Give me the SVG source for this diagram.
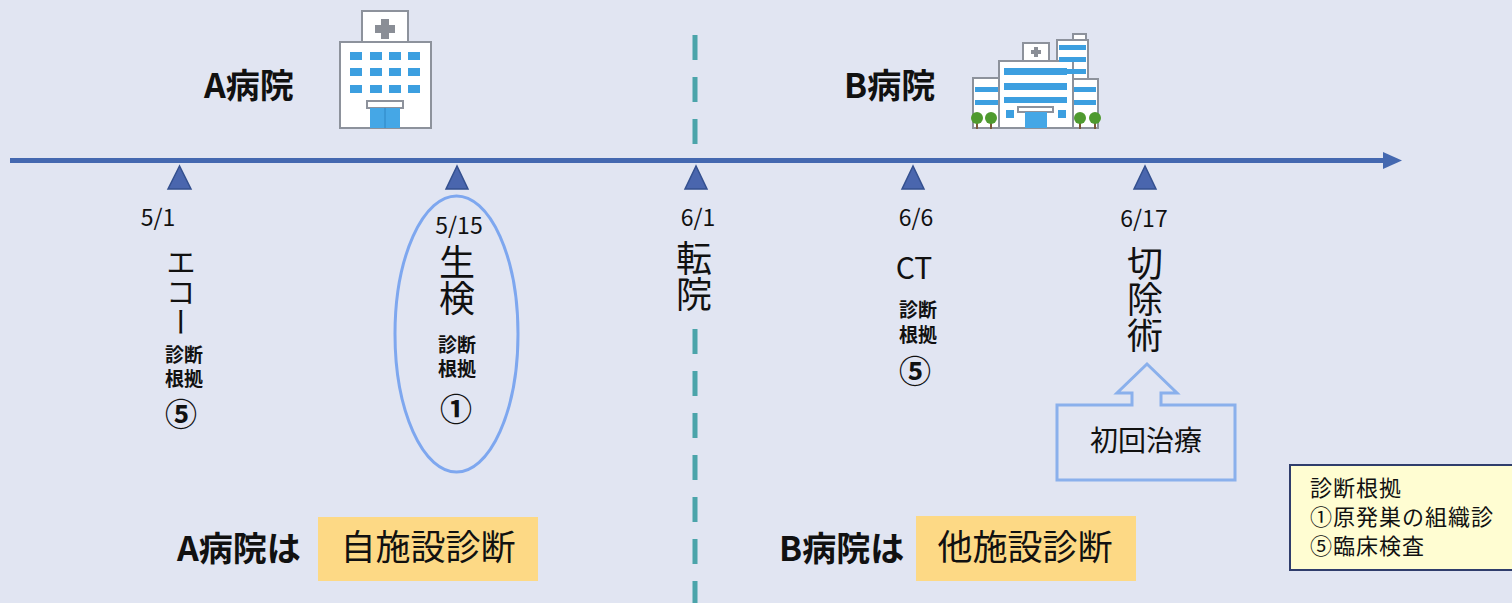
<svg xmlns="http://www.w3.org/2000/svg" width="1512" height="603" viewBox="0 0 1512 603">
  <style>
    text { font-family: "Noto Sans CJK JP", "Noto Sans", sans-serif; fill: #111; }
    .hosp { font-size: 34px; font-weight: bold; }
    .date { font-size: 23px; text-anchor: middle; }
    .vert { font-size: 36px; writing-mode: vertical-rl; }
    .basis { font-size: 19px; font-weight: bold; text-anchor: middle; }
    .num { font-size: 32px; font-weight: bold; text-anchor: middle; }
    .tick { fill: #4a66ae; stroke: #34508f; stroke-width: 1.5; }
    .bld { fill: #ffffff; stroke: #8d929c; stroke-width: 2; }
    .win { fill: #3c9fe0; }
    .tree { fill: #4f9a2f; }
    .trunk { fill: #7a5a3a; }
    .tag { fill: #fdd985; }
    .legend-text { font-size: 22px; letter-spacing: 1px; }
  </style>

  <!-- background -->
  <rect x="0" y="0" width="1512" height="603" fill="#e1e5f2"/>

  <!-- hospital change divider -->
  <g id="divider" stroke="#4ba4aa" stroke-width="5" stroke-dasharray="25 17">
    <line x1="695" y1="35" x2="695" y2="150"/>
    <line x1="695" y1="329" x2="695" y2="603"/>
  </g>

  <!-- timeline and tick markers -->
  <g id="connectors">
    <line x1="10" y1="160.5" x2="1386" y2="160.5" stroke="#4468b0" stroke-width="5"/>
    <polygon points="1383,152 1402,160.5 1383,169" fill="#4468b0"/>
    <polygon class="tick" points="179.5,166 168,189 191,189"/>
    <polygon class="tick" points="457,166 446,189 468,189"/>
    <polygon class="tick" points="696,166 685,189 707,189"/>
    <polygon class="tick" points="913,166 902,189 924,189"/>
    <polygon class="tick" points="1145,166 1134,189 1156,189"/>
  </g>

  <!-- hospital A -->
  <g id="hospital-a">
    <text class="hosp" x="204" y="98">A病院</text>
    <rect class="bld" x="362" y="11" width="46" height="31"/>
    <path d="M381,19 h8 v6 h6 v8 h-6 v6 h-8 v-6 h-6 v-8 h6 z" fill="#8a8e96"/>
    <rect class="bld" x="340" y="42" width="91" height="86"/>
    <g class="win">
      <rect x="350" y="52" width="12" height="8"/><rect x="370" y="52" width="12" height="8"/><rect x="389" y="52" width="12" height="8"/><rect x="408" y="52" width="12" height="8"/>
      <rect x="350" y="68" width="12" height="8"/><rect x="370" y="68" width="12" height="8"/><rect x="389" y="68" width="12" height="8"/><rect x="408" y="68" width="12" height="8"/>
      <rect x="350" y="85" width="12" height="8"/><rect x="370" y="85" width="12" height="8"/><rect x="389" y="85" width="12" height="8"/><rect x="408" y="85" width="12" height="8"/>
    </g>
    <rect class="bld" x="367" y="101" width="36" height="7" stroke-width="1.5"/>
    <rect x="370" y="108" width="30" height="20" fill="#45a7e6"/>
    <line x1="385" y1="108" x2="385" y2="128" stroke="#2f86c4" stroke-width="1"/>
  </g>

  <!-- hospital B -->
  <g id="hospital-b">
    <text class="hosp" x="844" y="98">B病院</text>
    <rect class="bld" x="1073" y="34" width="13" height="6" stroke-width="1.5"/>
    <rect class="bld" x="1057" y="40" width="31" height="40" stroke-width="1.5"/>
    <rect class="bld" x="1023" y="43" width="26" height="19" stroke-width="1.5"/>
    <path d="M1034,47 h4 v3 h3 v4 h-3 v3 h-4 v-3 h-3 v-4 h3 z" fill="#8a8e96"/>
    <rect class="bld" x="973" y="78" width="27" height="50" stroke-width="1.5"/>
    <rect class="bld" x="1072" y="79" width="26" height="49" stroke-width="1.5"/>
    <rect class="bld" x="999" y="61" width="74" height="67" stroke-width="1.5"/>
    <g class="win">
      <rect x="1059" y="45" width="27" height="5"/><rect x="1059" y="57" width="27" height="5"/><rect x="1059" y="69" width="27" height="5"/>
      <rect x="975" y="87" width="23" height="5"/><rect x="975" y="100" width="23" height="5"/>
      <rect x="1074" y="87" width="22" height="5"/><rect x="1074" y="100" width="22" height="5"/>
      <rect x="1004" y="68" width="63" height="7"/><rect x="1004" y="83" width="63" height="7"/><rect x="1004" y="97" width="63" height="6"/>
      <rect x="1006" y="110" width="8" height="8"/><rect x="1058" y="110" width="8" height="8"/>
    </g>
    <rect class="bld" x="1018" y="107" width="35" height="5" stroke-width="1.2"/>
    <rect x="1025" y="112" width="22" height="16" fill="#45a7e6"/>
    <rect class="trunk" x="976" y="119" width="2" height="10"/>
    <rect class="trunk" x="990" y="119" width="2" height="10"/>
    <rect class="trunk" x="1079" y="119" width="2" height="10"/>
    <rect class="trunk" x="1094" y="119" width="2" height="10"/>
    <circle class="tree" cx="977" cy="118" r="6"/>
    <circle class="tree" cx="991" cy="118" r="6"/>
    <circle class="tree" cx="1080" cy="118" r="6"/>
    <circle class="tree" cx="1095" cy="118" r="6"/>
  </g>

  <!-- 5/1 echo -->
  <g id="event-0501">
    <text class="date" x="158" y="226">5/1</text>
    <text x="181" y="247" style="font-size:30px; writing-mode: vertical-rl;">エコー</text>
    <text class="basis" x="184" y="362">診断</text>
    <text class="basis" x="184" y="386">根拠</text>
    <text class="num" x="181" y="426">⑤</text>
  </g>

  <!-- 5/15 biopsy -->
  <g id="event-0515">
    <ellipse cx="456.5" cy="334" rx="61.5" ry="138" fill="none" stroke="#7ea7ef" stroke-width="3"/>
    <text class="date" x="459" y="234">5/15</text>
    <text class="vert" x="457" y="244">生検</text>
    <text class="basis" x="457" y="352">診断</text>
    <text class="basis" x="457" y="376">根拠</text>
    <text class="num" x="456" y="421">①</text>
  </g>

  <!-- 6/1 transfer -->
  <g id="event-0601">
    <text class="date" x="698" y="226">6/1</text>
    <text class="vert" x="694" y="240">転院</text>
  </g>

  <!-- 6/6 CT -->
  <g id="event-0606">
    <text class="date" x="916" y="226">6/6</text>
    <text x="914" y="279" style="font-size:30px; text-anchor: middle;">CT</text>
    <text class="basis" x="918" y="317">診断</text>
    <text class="basis" x="918" y="342">根拠</text>
    <text class="num" x="915" y="383">⑤</text>
  </g>

  <!-- 6/17 resection -->
  <g id="event-0617">
    <text class="date" x="1144" y="227">6/17</text>
    <text class="vert" x="1145" y="245">切除術</text>
  </g>

  <!-- first treatment callout -->
  <g id="first-treatment">
    <path d="M1057,405 H1132 V393 H1117 L1147,364 L1177,393 H1161 V405 H1235 V480 H1057 Z" fill="#e1e5f2" stroke="#8ab0ec" stroke-width="3"/>
    <text x="1146" y="451" style="font-size:28px; text-anchor: middle;">初回治療</text>
  </g>

  <!-- legend -->
  <g id="legend">
    <rect x="1290" y="465" width="225" height="105" fill="#fffdd2" stroke="#2f3d6c" stroke-width="2"/>
    <text class="legend-text" x="1310" y="496">診断根拠</text>
    <text class="legend-text" x="1310" y="525">①原発巣の組織診</text>
    <text class="legend-text" x="1310" y="554">⑤臨床検査</text>
  </g>

  <!-- A hospital diagnosis type -->
  <g id="label-a">
    <text x="177" y="561" style="font-size:34px; font-weight:bold;">A病院は</text>
    <rect class="tag" x="318" y="517" width="220" height="64"/>
    <text x="428" y="560" style="font-size:35px; text-anchor: middle;">自施設診断</text>
  </g>

  <!-- B hospital diagnosis type -->
  <g id="label-b">
    <text x="779" y="561" style="font-size:34px; font-weight:bold;">B病院は</text>
    <rect class="tag" x="916" y="516" width="220" height="65"/>
    <text x="1025" y="560" style="font-size:35px; text-anchor: middle;">他施設診断</text>
  </g>
</svg>
